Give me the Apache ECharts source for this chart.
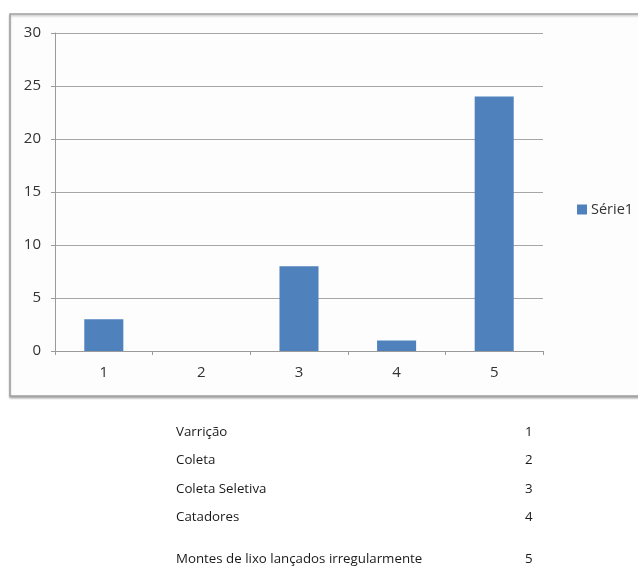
<!DOCTYPE html>
<html>
<head>
<meta charset="utf-8">
<script src="https://cdn.jsdelivr.net/npm/echarts@6/dist/echarts.min.js"></script>
<style>
html,body{margin:0;padding:0;background:#fff;}
#c{width:638px;height:567px;}
</style>
</head>
<body>
<div id="c"></div>
<script>
const categories = ['1', '2', '3', '4', '5'];
const values = [3, 0, 8, 1, 24];
const seriesName = 'Série1';
const tableLabels = ['Varrição', 'Coleta', 'Coleta Seletiva', 'Catadores', 'Montes de lixo lançados irregularmente'];
const tableCodes = ['1', '2', '3', '4', '5'];
const tableRowY = [433, 461, 490, 518, 560];

const chart = echarts.init(document.getElementById('c'), null, {renderer: 'canvas'});
const font = '"Open Sans", "Liberation Sans", sans-serif';
const textGraphics = [];
tableLabels.forEach((t, i) => {
  textGraphics.push({type: 'text', left: 176, top: tableRowY[i] - 7,
    style: {text: t, fill: '#1a1a1a', font: '13.3px ' + font}});
  textGraphics.push({type: 'text', left: 525, top: tableRowY[i] - 7,
    style: {text: tableCodes[i], fill: '#1a1a1a', font: '13.3px ' + font}});
});

chart.setOption({
  backgroundColor: '#fff',
  animation: false,
  graphic: [
    {type: 'rect', z: -10, shape: {x: 10, y: 14, width: 640, height: 382},
      style: {fill: '#fdfdfd', stroke: '#a0a0a0', lineWidth: 1.5,
        shadowColor: 'rgba(0,0,0,0.25)', shadowBlur: 2, shadowOffsetY: 1.5}}
  ].concat(textGraphics),
  grid: {left: 55, right: 95, top: 33, bottom: 216, containLabel: false},
  legend: {
    data: [seriesName], left: 572, top: 197, icon: 'rect',
    itemWidth: 10, itemHeight: 10, itemGap: 4,
    textStyle: {fontFamily: font, fontSize: 14.5, color: '#333', padding: [0,0,0,-1]}
  },
  xAxis: {
    type: 'category', data: categories,
    axisLine: {lineStyle: {color: '#9a9a9a', width: 1}},
    axisTick: {show: true, alignWithLabel: false, length: 4, lineStyle: {color: '#9a9a9a'}},
    axisLabel: {margin: 14, fontFamily: font, fontSize: 15, color: '#333'}
  },
  yAxis: {
    type: 'value', min: 0, max: 30, interval: 5,
    axisLine: {show: true, lineStyle: {color: '#9a9a9a', width: 1}},
    axisTick: {show: true, length: 4, lineStyle: {color: '#9a9a9a'}},
    axisLabel: {margin: 14, fontFamily: font, fontSize: 15, color: '#333'},
    splitLine: {lineStyle: {color: '#a6a6a6', width: 1}}
  },
  series: [{
    name: seriesName, type: 'bar', data: values,
    barCategoryGap: '60%',
    itemStyle: {color: '#4f81bd'}
  }]
});
</script>
</body>
</html>
